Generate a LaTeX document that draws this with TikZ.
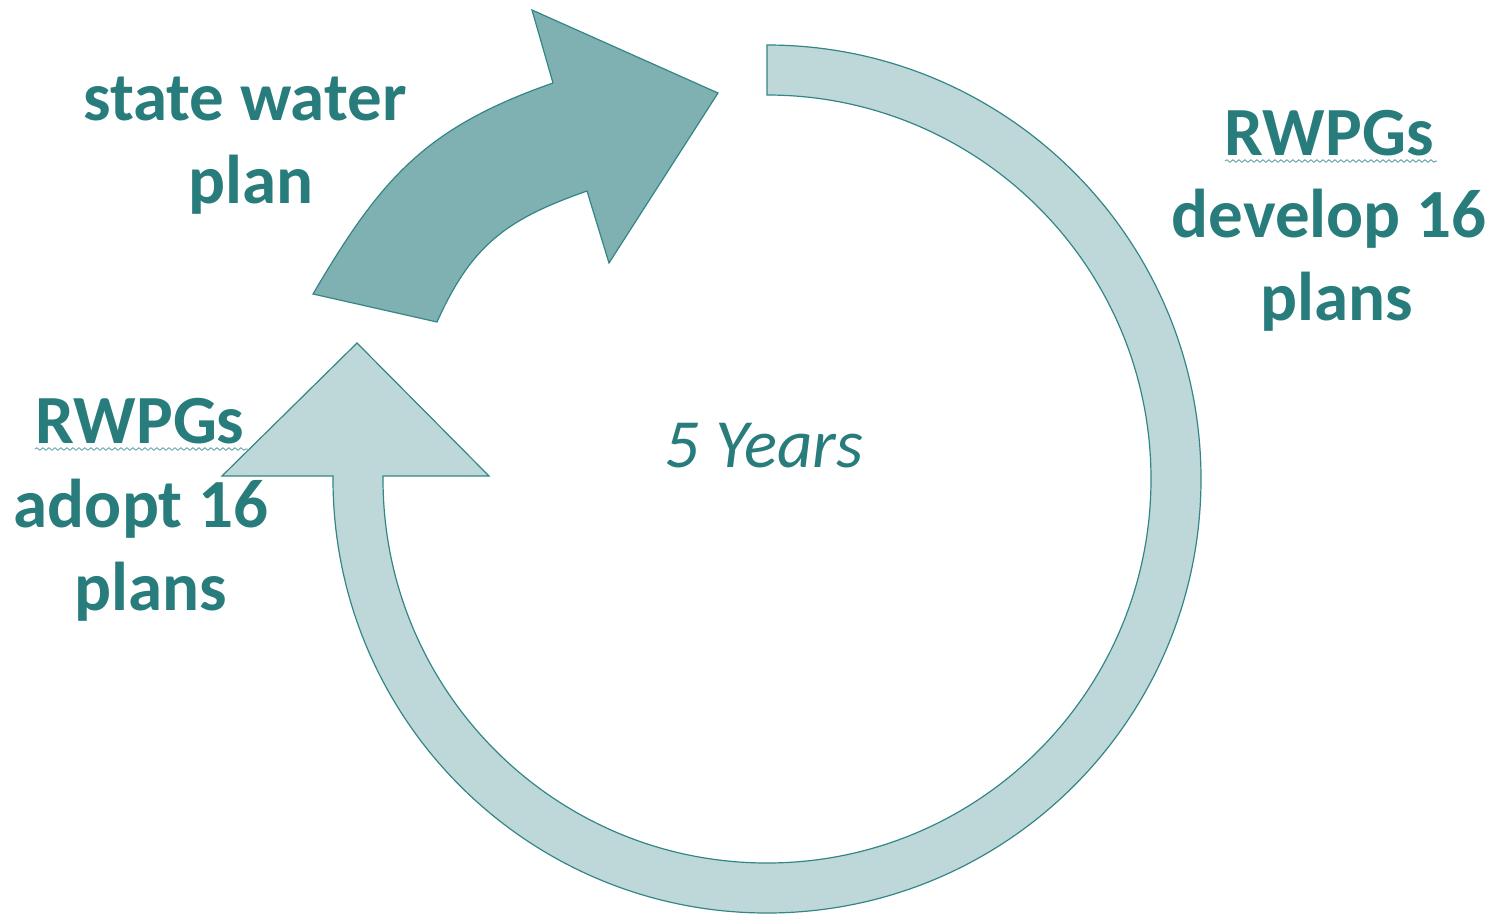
\documentclass[tikz,border=0pt]{standalone}
\usepackage{fontspec}
\setmainfont{Carlito}
\usetikzlibrary{decorations.pathmorphing}
\definecolor{txt}{RGB}{41,124,124}
\definecolor{darkfill}{RGB}{127,177,178}
\definecolor{lightfill}{RGB}{190,216,217}
\definecolor{edge}{RGB}{52,134,134}
\definecolor{squig}{RGB}{110,170,170}
\tikzset{
  lbl/.style={anchor=base, text=txt, font=\fontsize{34.5}{40}\selectfont\bfseries, inner sep=0pt},
  yrs/.style={anchor=base, text=txt, font=\fontsize{34.5}{40}\selectfont\itshape, inner sep=0pt},
  ring/.style={fill=lightfill, draw=edge, line width=0.6pt, line join=miter},
  bent/.style={fill=darkfill, draw=edge, line width=0.6pt, line join=miter},
  squiggle/.style={draw=squig, line width=0.5pt, decorate, decoration={snake, amplitude=0.6pt, segment length=3pt}}
}
\begin{document}
\begin{tikzpicture}[x=0.5pt, y=0.5pt]
\useasboundingbox (0,0) rectangle (1499,-916);
% big light cycle arrow
\coordinate (c) at (767,-479);
\draw[ring] (767,-45) arc[start angle=90, end angle=-180, radius=434]
  -- (333,-476) -- (222,-476) -- (357,-343) -- (489,-476) -- (383,-476) -- (383,-479)
  arc[start angle=-180, end angle=90, radius=384] -- cycle;
% dark curved arrow
\draw[bent] (313,-294) .. controls (381.4,-177.6) and (425.6,-127.6) .. (553,-83)
  -- (532,-10) -- (718,-93) -- (609,-263) -- (587,-191)
  .. controls (506.8,-219.2) and (471.8,-244.5) .. (437,-322) -- cycle;
% texts
\node[lbl] (t1) at (245,-120) {state water};
\node[lbl] (t2) at (251,-203) {plan};
\node[lbl] (r1) at (1329,-155) {RWPGs};
\node[lbl] (r2) at (1329,-237) {develop 16};
\node[lbl] (r3) at (1337,-320) {plans};
\node[lbl] (l1) at (140,-443) {RWPGs};
\node[lbl] (l2) at (141,-527) {adopt 16};
\node[lbl] (l3) at (151,-610) {plans};
\node[yrs] (y) at (764,-467) {5 Years};
% spell-check squiggles
\draw[squiggle] (1225,-161) -- (1437,-161);
\draw[squiggle] (35,-449) -- (248,-449);
\end{tikzpicture}
\end{document}
